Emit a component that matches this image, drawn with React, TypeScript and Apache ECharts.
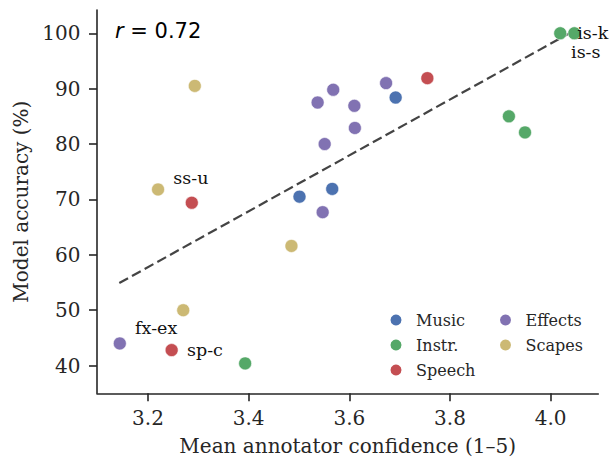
import React, { useEffect, useRef } from "react";
import * as echarts from "echarts";

// ---- data ----
const music: number[][] = [
  [3.501, 70.5],
  [3.566, 71.9],
  [3.692, 88.4],
];
const instr: number[][] = [
  [3.393, 40.4],
  [3.917, 85.0],
  [3.949, 82.1],
  [4.019, 100.0],
  [4.047, 100.0],
];
const speech: number[][] = [
  [3.287, 69.4],
  [3.247, 42.8],
  [3.755, 91.9],
];
const effects: number[][] = [
  [3.144, 44.0],
  [3.547, 67.7],
  [3.551, 80.0],
  [3.537, 87.5],
  [3.568, 89.8],
  [3.61, 86.9],
  [3.611, 82.9],
  [3.673, 91.0],
];
const scapes: number[][] = [
  [3.293, 90.5],
  [3.22, 71.8],
  [3.27, 50.0],
  [3.485, 61.6],
];
const fitLine: number[][] = [
  [3.143, 54.9],
  [4.047, 100.5],
];
const xTicks = [3.2, 3.4, 3.6, 3.8, 4.0];
const yTicks = [40, 50, 60, 70, 80, 90, 100];
const rText = "0.72";

// point annotations: series name, point index, text
const annotations = [
  { series: "Instr.", index: 4, text: "is-k" },
  { series: "Instr.", index: 3, text: "is-s" },
  { series: "Scapes", index: 1, text: "ss-u" },
  { series: "Effects", index: 0, text: "fx-ex" },
  { series: "Speech", index: 1, text: "sp-c" },
];

// ---- styles ----
const labelOffsets: Record<string, number[]> = {
  "is-k": [-4, -0.5],
  "is-s": [4, 18.5],
  "ss-u": [8.5, -11.5],
  "fx-ex": [8.5, -15],
  "sp-c": [8.5, 0],
};
const colors: Record<string, string> = {
  Music: "#4C72B0",
  "Instr.": "#55A868",
  Speech: "#C44E52",
  Effects: "#8172B2",
  Scapes: "#CCB974",
};
const SERIF = "'DejaVu Serif', serif";
const INK = "#262626";

function buildSeries(name: string, pts: number[][]) {
  return {
    name,
    type: "scatter",
    symbol: "circle",
    symbolSize: 13,
    z: 3,
    itemStyle: { color: colors[name], borderColor: "#ffffff", borderWidth: 0.6, opacity: 1 },
    data: pts.map((p, i) => {
      const a = annotations.find((q) => q.series === name && q.index === i);
      if (!a) return p;
      return {
        value: p,
        label: {
          show: true,
          formatter: a.text,
          position: "right",
          distance: 0,
          offset: labelOffsets[a.text],
          fontFamily: SERIF,
          fontSize: 17.5,
          lineHeight: 15,
          color: "#111111",
        },
      };
    }),
  };
}

export default function App() {
  const ref = useRef<HTMLDivElement>(null);
  useEffect(() => {
    document.body.style.margin = "0";
    if (!ref.current) return;
    const chart = echarts.init(ref.current, undefined, { renderer: "svg" });
    const legendCommon = {
      orient: "vertical",
      top: 312,
      padding: 0,
      icon: "circle",
      itemWidth: 30,
      itemHeight: 13,
      itemGap: 9,
      textStyle: { fontFamily: SERIF, fontSize: 16, lineHeight: 16, color: INK },
    };
    chart.setOption({
      animation: false,
      backgroundColor: "#ffffff",
      grid: { left: 97, right: 11.7, top: 10, bottom: 63.7, containLabel: false, outerBoundsMode: "none" },
      xAxis: {
        type: "value",
        min: 3.0987,
        max: 4.0946,
        name: "Mean annotator confidence (1–5)",
        nameLocation: "middle",
        nameGap: 43,
        nameTextStyle: { fontFamily: SERIF, fontSize: 20, color: INK },
        axisLine: { show: true, onZero: false, lineStyle: { color: INK, width: 1.6 } },
        axisTick: { show: true, length: 8, lineStyle: { color: INK, width: 1.6 }, customValues: xTicks },
        axisLabel: {
          fontFamily: SERIF,
          fontSize: 20,
          color: INK,
          margin: 14.5,
          customValues: xTicks,
          formatter: (v: number) => v.toFixed(1),
        },
        splitLine: { show: false },
      },
      yAxis: {
        type: "value",
        min: 35.0,
        max: 104.2,
        name: "Model accuracy (%)",
        nameLocation: "middle",
        nameGap: 66,
        nameTextStyle: { fontFamily: SERIF, fontSize: 20, color: INK },
        axisLine: { show: true, onZero: false, lineStyle: { color: INK, width: 1.6 } },
        axisTick: { show: true, length: 8, lineStyle: { color: INK, width: 1.6 }, customValues: yTicks },
        axisLabel: {
          fontFamily: SERIF,
          fontSize: 20,
          color: INK,
          margin: 16.5,
          customValues: yTicks,
          formatter: (v: number) => String(v),
        },
        splitLine: { show: false },
      },
      legend: [
        { ...legendCommon, left: 388.5, data: ["Music", "Instr.", "Speech"] },
        { ...legendCommon, left: 498, data: ["Effects", "Scapes"] },
      ],
      graphic: [
        {
          type: "text",
          x: 115,
          y: 31,
          style: {
            text: "{i|r} = " + rText,
            fontFamily: "'DejaVu Sans', sans-serif",
            fontSize: 21,
            fill: "#000000",
            verticalAlign: "middle",
            rich: {
              i: { fontStyle: "italic", fontFamily: "'DejaVu Sans', sans-serif", fontSize: 21, fill: "#000000" },
            },
          },
        },
      ],
      series: [
        {
          name: "fit",
          type: "line",
          data: fitLine,
          showSymbol: false,
          symbol: "none",
          z: 1,
          silent: true,
          lineStyle: { color: "#444444", width: 2.2, type: [10, 4.5] },
        },
        buildSeries("Music", music),
        buildSeries("Instr.", instr),
        buildSeries("Speech", speech),
        buildSeries("Effects", effects),
        buildSeries("Scapes", scapes),
      ],
    });
    return () => chart.dispose();
  }, []);
  return <div ref={ref} style={{ width: 610, height: 457 }} />;
}
